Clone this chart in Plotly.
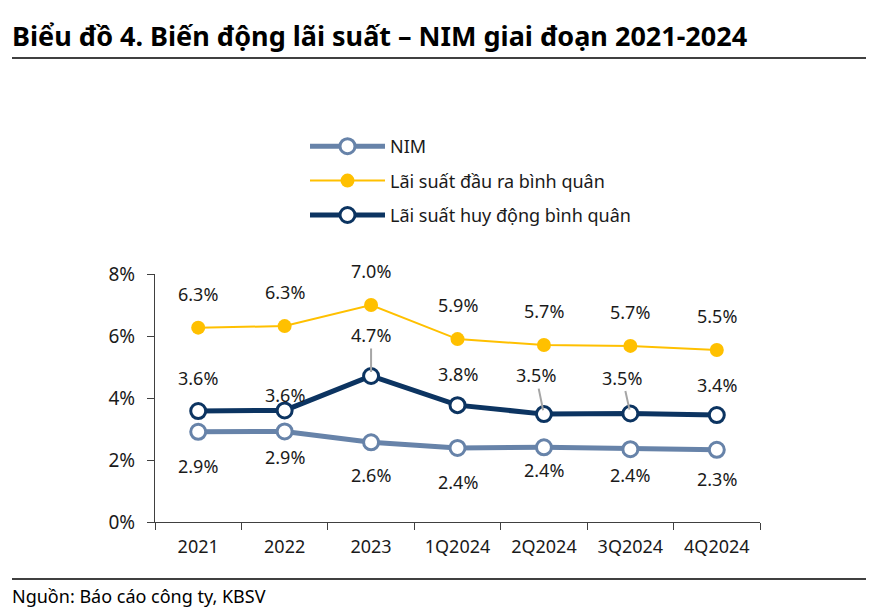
import plotly.graph_objects as go

categories = ["2021", "2022", "2023", "1Q2024", "2Q2024", "3Q2024", "4Q2024"]
nim = [2.91, 2.92, 2.57, 2.39, 2.41, 2.35, 2.33]
lending = [6.27, 6.32, 7.00, 5.90, 5.71, 5.68, 5.55]
deposit = [3.58, 3.60, 4.71, 3.77, 3.48, 3.50, 3.45]
nim_labels = ["2.9%", "2.9%", "2.6%", "2.4%", "2.4%", "2.4%", "2.3%"]
lending_labels = ["6.3%", "6.3%", "7.0%", "5.9%", "5.7%", "5.7%", "5.5%"]
deposit_labels = ["3.6%", "3.6%", "4.7%", "3.8%", "3.5%", "3.5%", "3.4%"]
y_ticks = [0, 2, 4, 6, 8]
y_tick_labels = ["0%", "2%", "4%", "6%", "8%"]

W, H = 895, 610
L, R, T, B = 155, 135, 274, 88
PW, PH = W - L - R, H - T - B

def px_x(p):
    return (p - L) / PW

def px_y(p):
    return (H - B - p) / PH

FONT = "Noto Sans"
TXT = "#1a1a1a"
C_NIM = "#6783A9"
C_LEND = "#FFC000"
C_DEP = "#0C3461"

fig = go.Figure()
fig.add_trace(go.Scatter(
    x=categories, y=nim, name="NIM", mode="lines+markers",
    line=dict(color=C_NIM, width=5),
    marker=dict(symbol="circle", size=15, color="white", line=dict(color=C_NIM, width=3)),
    legendgroup="a"))
fig.add_trace(go.Scatter(
    x=categories, y=lending, name="Lãi suất đầu ra bình quân", mode="lines+markers",
    line=dict(color=C_LEND, width=2),
    marker=dict(symbol="circle", size=14, color=C_LEND),
    legendgroup="b"))
fig.add_trace(go.Scatter(
    x=categories, y=deposit, name="Lãi suất huy động bình quân", mode="lines+markers",
    line=dict(color=C_DEP, width=5),
    marker=dict(symbol="circle", size=15, color="white", line=dict(color=C_DEP, width=3)),
    legendgroup="c"))

# label offsets (pixels)
lend_dy = [-34, -34, -34, -34, -34, -34, -34]
dep_dy = [-33, -15, -41, -31, -39, -36, -30]
dep_dx = [0, 0, 0, 0, -8, -8, 0]
dep_arrow = [False, False, True, False, True, True, False]
nim_dy = [34, 26, 33, 34, 23, 26, 29]

lab_font = dict(family=FONT, size=18, color=TXT)
for i, c in enumerate(categories):
    fig.add_annotation(x=i, y=lending[i], text=lending_labels[i], showarrow=False,
                       yshift=-lend_dy[i], font=lab_font)
    fig.add_annotation(x=i, y=nim[i], text=nim_labels[i], showarrow=False,
                       yshift=-nim_dy[i], font=lab_font)
    if dep_arrow[i]:
        fig.add_annotation(x=i, y=deposit[i], text=deposit_labels[i], showarrow=True,
                           ax=dep_dx[i], ay=dep_dy[i], arrowhead=0, arrowwidth=2,
                           arrowcolor="#a6a6a6", standoff=4, font=lab_font)
    else:
        fig.add_annotation(x=i, y=deposit[i], text=deposit_labels[i], showarrow=False,
                           yshift=-dep_dy[i], xshift=dep_dx[i], font=lab_font)

# title, source, rules
fig.add_annotation(xref="paper", yref="paper", x=px_x(10), y=px_y(35), xanchor="left",
                   yanchor="middle", showarrow=False,
                   text="<b>Biểu đồ 4. Biến động lãi suất – NIM giai đoạn 2021-2024</b>",
                   font=dict(family=FONT, size=27, color="#000000"))
fig.add_annotation(xref="paper", yref="paper", x=px_x(10), y=px_y(596), xanchor="left",
                   yanchor="middle", showarrow=False,
                   text="Nguồn: Báo cáo công ty, KBSV",
                   font=dict(family=FONT, size=18, color="#000000"))
for yy in (58, 579):
    fig.add_shape(type="line", xref="paper", yref="paper", x0=px_x(12), x1=px_x(866),
                  y0=px_y(yy), y1=px_y(yy), line=dict(color="#000000", width=1.3))

fig.update_layout(
    width=W, height=H, margin=dict(l=L, r=R, t=T, b=B, autoexpand=False),
    paper_bgcolor="white", plot_bgcolor="white",
    font=dict(family=FONT, size=17, color=TXT),
    showlegend=True,
    legend=dict(x=px_x(305), y=px_y(128), xanchor="left", yanchor="top",
                traceorder="grouped", tracegroupgap=8, itemwidth=75,
                font=dict(family=FONT, size=18, color=TXT), bgcolor="rgba(0,0,0,0)"),
    xaxis=dict(type="category", range=[-0.5, 6.5], showline=True, linecolor="#404040",
               linewidth=1.3, ticks="outside", tickson="boundaries", ticklen=7,
               tickcolor="#404040", showgrid=False, zeroline=False,
               ticklabelstandoff=8,
               tickfont=dict(family=FONT, size=18, color=TXT)),
    yaxis=dict(range=[0, 8], tickvals=y_ticks, ticktext=y_tick_labels, showline=True,
               linecolor="#404040", linewidth=1.3, ticks="outside", ticklen=7,
               tickcolor="#404040", showgrid=False, zeroline=False,
               ticklabelstandoff=8,
               tickfont=dict(family=FONT, size=19, color=TXT)),
)

fig.write_html("out.html")
